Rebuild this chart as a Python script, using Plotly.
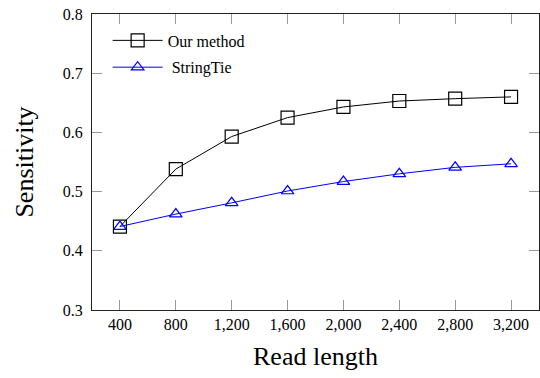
import plotly.graph_objects as go

read_length = [400, 800, 1200, 1600, 2000, 2400, 2800, 3200]
our_method = [0.441, 0.538, 0.593, 0.625, 0.643, 0.653, 0.657, 0.660]
stringtie = [0.441, 0.462, 0.481, 0.501, 0.517, 0.530, 0.541, 0.547]
x_ticks = [400, 800, 1200, 1600, 2000, 2400, 2800, 3200]
x_tick_labels = ["400", "800", "1,200", "1,600", "2,000", "2,400", "2,800", "3,200"]
y_ticks = [0.3, 0.4, 0.5, 0.6, 0.7, 0.8]

font_family = "Liberation Serif, Times New Roman, serif"

fig = go.Figure()
fig.add_trace(go.Scatter(
    x=read_length, y=our_method, name="Our method", legendgroup="ours",
    mode="lines+markers",
    line=dict(color="black", width=1),
    marker=dict(symbol="square-open", size=13, color="black", line=dict(width=1.2)),
))
fig.add_trace(go.Scatter(
    x=read_length, y=stringtie, name=" StringTie", legendgroup="stringtie",
    mode="lines+markers",
    line=dict(color="blue", width=1),
    marker=dict(symbol="triangle-up-open", size=11, color="blue", line=dict(width=1.2)),
))

fig.update_layout(
    width=540, height=378,
    margin=dict(l=92, r=1, t=14, b=68, autoexpand=False),
    paper_bgcolor="white", plot_bgcolor="white",
    font=dict(family=font_family, size=16, color="black"),
    showlegend=True,
    legend=dict(x=0.035, y=0.968, xanchor="left", yanchor="top",
                bgcolor="rgba(0,0,0,0)", borderwidth=0, tracegroupgap=3,
                itemwidth=50,
                font=dict(family=font_family, size=16)),
    xaxis=dict(
        range=[200, 3400], tickvals=x_ticks, ticktext=x_tick_labels,
        showgrid=False, zeroline=False,
        showline=True, linecolor="#222222", linewidth=1, mirror="ticks",
        ticks="inside", ticklen=10, tickcolor="#999999",
        tickfont=dict(family=font_family, size=16),
        title=dict(text="Read length", font=dict(family=font_family, size=26), standoff=14),
    ),
    yaxis=dict(
        range=[0.3, 0.8], tickvals=y_ticks, tickformat=".1f",
        showgrid=False, zeroline=False,
        showline=True, linecolor="#222222", linewidth=1, mirror="ticks",
        ticks="inside", ticklen=10, tickcolor="#999999",
        ticklabelstandoff=5,
        tickfont=dict(family=font_family, size=16),
        title=dict(text="Sensitivity", font=dict(family=font_family, size=26), standoff=21),
    ),
)

fig.write_html("out.html", config={"displayModeBar": False},
               post_script="document.body.style.margin='0';")
